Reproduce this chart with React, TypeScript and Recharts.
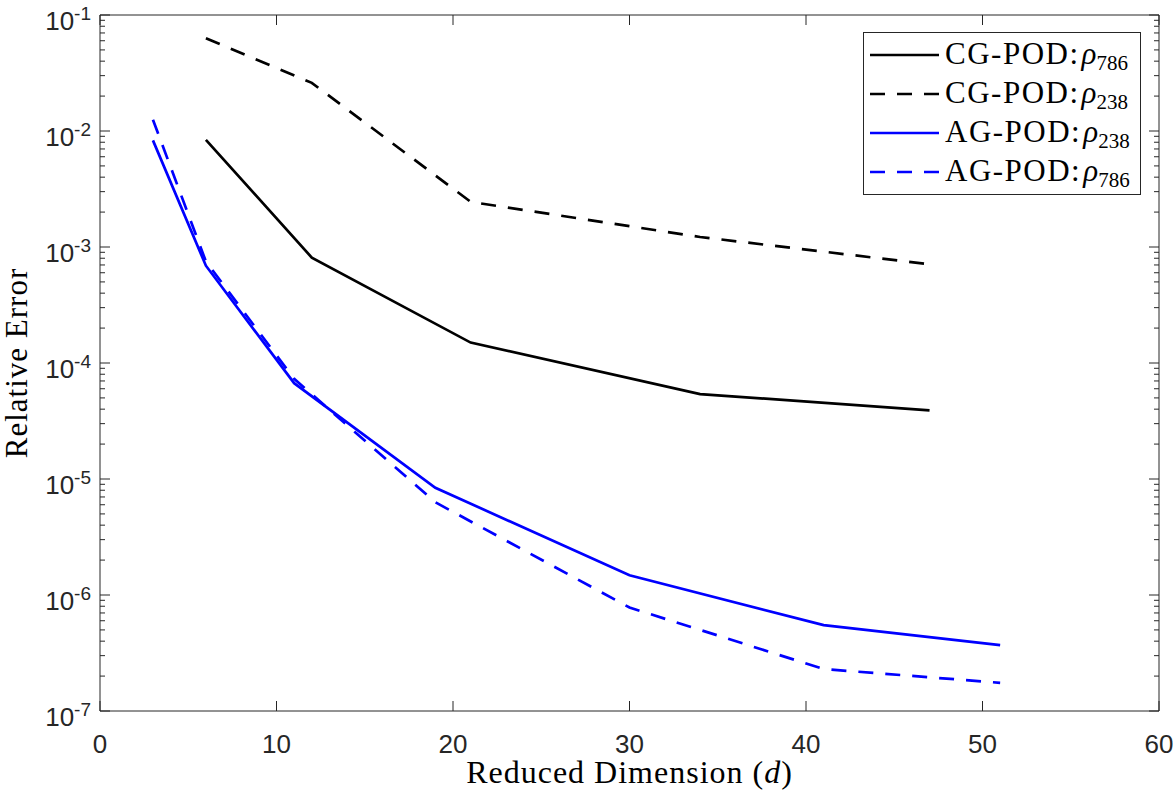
import { LineChart, Line, XAxis, YAxis, Legend, ReferenceArea } from "recharts"

// reduced dimension d and relative error
const cgRho786D = [6, 12, 21, 34, 47]
const cgRho786Err = [8.4e-3, 8.1e-4, 1.5e-4, 5.4e-5, 3.9e-5]

const cgRho238D = [6, 12, 21, 34, 47]
const cgRho238Err = [6.3e-2, 2.6e-2, 2.45e-3, 1.22e-3, 7.1e-4]

const agRho238D = [3, 6, 11, 19, 30, 41, 51]
const agRho238Err = [8.3e-3, 6.9e-4, 6.7e-5, 8.4e-6, 1.48e-6, 5.5e-7, 3.7e-7]

const agRho786D = [3, 6, 11, 19, 30, 41, 51]
const agRho786Err = [1.25e-2, 7.5e-4, 7.3e-5, 6.3e-6, 7.8e-7, 2.3e-7, 1.75e-7]

const xTicks = [0, 10, 20, 30, 40, 50, 60]
const yExponents = [-7, -6, -5, -4, -3, -2, -1]
// majors plus the 2..9 minors of each decade
const yTicks = yExponents.flatMap((e) =>
  e === -1 ? [Math.pow(10, e)] : [1, 2, 3, 4, 5, 6, 7, 8, 9].map((m) => m * Math.pow(10, e))
)

const toPoints = (d: number[], err: number[]) => d.map((x, i) => ({ d: x, err: err[i] }))

const series = [
  { key: "cg786", label: "CG-POD:", sub: "786", data: toPoints(cgRho786D, cgRho786Err), color: "#000000", dash: undefined },
  { key: "cg238", label: "CG-POD:", sub: "238", data: toPoints(cgRho238D, cgRho238Err), color: "#000000", dash: "15 12" },
  { key: "ag238", label: "AG-POD:", sub: "238", data: toPoints(agRho238D, agRho238Err), color: "#0000ff", dash: undefined },
  { key: "ag786", label: "AG-POD:", sub: "786", data: toPoints(agRho786D, agRho786Err), color: "#0000ff", dash: "15 12" },
]

const CHART_W = 1173
const CHART_H = 792
const MARGIN = { top: 15, right: 14, bottom: 0, left: 0 }
const PLOT_RIGHT = CHART_W - MARGIN.right

const axisColor = "#262626"
const sans = "'Liberation Sans', Arial, Helvetica, sans-serif"
const serif = "'Liberation Serif', 'Times New Roman', serif"
const lineWidth = 2.7

// left axis tick: inward tick marks on both sides, label only on decades
const YTick = (props: any) => {
  const { x, y, payload } = props
  const lg = Math.log10(payload.value)
  const exp = Math.round(lg)
  const major = Math.abs(lg - exp) < 1e-6
  const len = major ? 10 : 5
  return (
    <g>
      <line x1={x} x2={x + len} y1={y} y2={y} stroke={axisColor} strokeWidth={1} />
      <line x1={PLOT_RIGHT - len} x2={PLOT_RIGHT} y1={y} y2={y} stroke={axisColor} strokeWidth={1} />
      {major && (
        <text x={x - 9} y={y + 15} textAnchor="end" fontFamily={sans} fontSize={26} fill={axisColor}>
          10
          <tspan dy={-10} fontSize={19}>
            {exp}
          </tspan>
        </text>
      )}
    </g>
  )
}

const XTick = (props: any) => {
  const { x, y, payload } = props
  return (
    <g>
      <line x1={x} x2={x} y1={y} y2={y - 10} stroke={axisColor} strokeWidth={1} />
      <line x1={x} x2={x} y1={MARGIN.top} y2={MARGIN.top + 10} stroke={axisColor} strokeWidth={1} />
      <text x={x} y={y + 42} textAnchor="middle" fontFamily={sans} fontSize={26} fill={axisColor}>
        {payload.value}
      </text>
    </g>
  )
}

const XLabel = (props: any) => {
  const { x, y, width } = props.viewBox
  return (
    <text x={x + width / 2} y={y + 72} textAnchor="middle" fontFamily={serif} fontSize={32} letterSpacing={1} fill="#000">
      Reduced Dimension (<tspan fontStyle="italic">d</tspan>)
    </text>
  )
}

const YLabel = (props: any) => {
  const { y, height } = props.viewBox
  const cy = y + height / 2
  return (
    <text
      x={27}
      y={cy}
      transform={`rotate(-90, 27, ${cy})`}
      textAnchor="middle"
      fontFamily={serif}
      fontSize={31}
      letterSpacing={1}
      fill="#000"
    >
      Relative Error
    </text>
  )
}

const LegendBox = () => (
  <svg width={278} height={163} style={{ display: "block", background: "#fff" }}>
    <rect x={0.5} y={0.5} width={277} height={162} fill="#fff" stroke={axisColor} strokeWidth={1} />
    {series.map((s, i) => {
      const cy = 23 + i * 39
      return (
        <g key={s.key}>
          <line x1={7} x2={76} y1={cy} y2={cy} stroke={s.color} strokeWidth={lineWidth} strokeDasharray={s.dash} />
          <text x={82} y={cy + 9} fontFamily={serif} fontSize={31} letterSpacing={1.5} fill="#000">
            {s.label}
            <tspan fontStyle="italic" letterSpacing={0} dx={2}>
              ρ
            </tspan>
            <tspan fontSize={21} letterSpacing={0} dy={6}>
              {s.sub}
            </tspan>
          </text>
        </g>
      )
    })}
  </svg>
)

export default function App() {
  return (
    <div style={{ position: "absolute", left: 0, top: 0, width: CHART_W, height: CHART_H, background: "#fff" }}>
      <LineChart width={CHART_W} height={CHART_H} margin={MARGIN}>
        <XAxis
          xAxisId="x"
          type="number"
          dataKey="d"
          domain={[0, 60]}
          ticks={xTicks}
          interval={0}
          height={81}
          axisLine={false}
          tickLine={false}
          tickSize={0}
          tickMargin={0}
          tick={<XTick />}
          label={<XLabel />}
        />
        <YAxis
          yAxisId="y"
          scale="log"
          domain={[1e-7, 1e-1]}
          allowDataOverflow
          ticks={yTicks}
          interval={0}
          width={100}
          axisLine={false}
          tickLine={false}
          tickSize={0}
          tickMargin={0}
          tick={<YTick />}
          label={<YLabel />}
        />
        <ReferenceArea
          xAxisId="x"
          yAxisId="y"
          x1={0}
          x2={60}
          y1={1e-7}
          y2={1e-1}
          fill="none"
          fillOpacity={0}
          stroke={axisColor}
          strokeWidth={1}
        />
        {series.map((s) => (
          <Line
            key={s.key}
            xAxisId="x"
            yAxisId="y"
            data={s.data}
            dataKey="err"
            type="linear"
            stroke={s.color}
            strokeWidth={lineWidth}
            strokeDasharray={s.dash}
            dot={false}
            activeDot={false}
            isAnimationActive={false}
          />
        ))}
        <Legend
          layout="vertical"
          align="center"
          verticalAlign="middle"
          content={() => <LegendBox />}
          wrapperStyle={{ top: 32, left: 863, width: 278, height: 163 }}
        />
      </LineChart>
    </div>
  )
}
